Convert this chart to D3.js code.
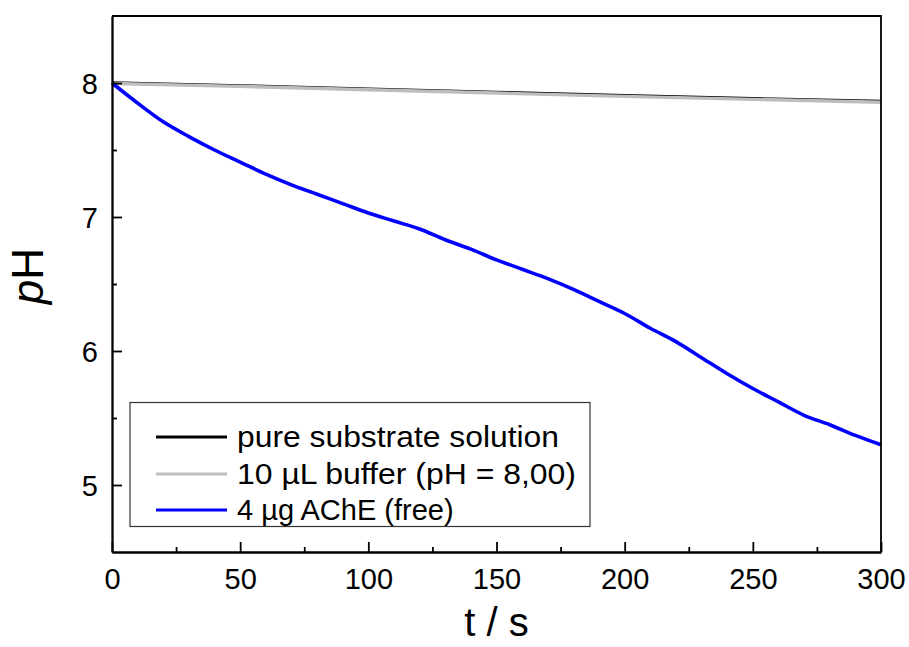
<!DOCTYPE html>
<html>
<head>
<meta charset="utf-8">
<script src="https://cdn.jsdelivr.net/npm/d3@7"></script>
<style>
  html, body { margin: 0; padding: 0; background: #fff; }
  svg { display: block; font-family: "Liberation Sans", Arial, sans-serif; }
</style>
</head>
<body>
<svg id="chart" width="909" height="647"></svg>
<script>
// ---- data ----
const timeS = [0,10,20,30,40,50,60,70,80,90,100,110,120,130,140,150,160,170,180,190,200,210,220,230,240,250,260,270,280,290,300];
const acheFree = [8.00,7.85,7.71,7.60,7.50,7.41,7.32,7.24,7.17,7.10,7.03,6.97,6.91,6.83,6.76,6.68,6.61,6.54,6.46,6.37,6.28,6.17,6.07,5.95,5.83,5.72,5.62,5.52,5.45,5.37,5.30];
const flatTime = [0, 50, 100, 150, 200, 250, 300];
const pureSubstrate = [8.004, 7.983, 7.959, 7.934, 7.909, 7.887, 7.866];
const buffer10uL = [7.996, 7.975, 7.950, 7.925, 7.900, 7.878, 7.856];
const seriesNames = ["pure substrate solution", "10 µL buffer (pH = 8,00)", "4 µg AChE (free)"];
const seriesColors = ["#000000", "#bdbdbd", "#0000ff"];
const xTicks = [0, 50, 100, 150, 200, 250, 300];
const xMinor = [25, 75, 125, 175, 225, 275];
const yTicks = [5, 6, 7, 8];
const yMinor = [5.5, 6.5, 7.5];

const svg = d3.select("#chart");
const L = 112, R = 881, T = 16, B = 552;
const x = d3.scaleLinear().domain([0, 300]).range([L, R]);
const y = d3.scaleLinear().domain([4.5, 8.5]).range([B, T]);

// curves
const line = d3.line().x(d => x(d[0])).y(d => y(d[1]));
const g = svg.append("g");
g.append("path").datum(flatTime.map((t, i) => [t, pureSubstrate[i]]))
  .attr("d", line).attr("fill", "none").attr("stroke", seriesColors[0]).attr("stroke-width", 2.2);
g.append("path").datum(flatTime.map((t, i) => [t, buffer10uL[i]]))
  .attr("d", line).attr("fill", "none").attr("stroke", seriesColors[1]).attr("stroke-width", 3.4);
g.append("path").datum(timeS.map((t, i) => [t, acheFree[i]]))
  .attr("d", line.curve(d3.curveMonotoneX)).attr("fill", "none").attr("stroke", seriesColors[2]).attr("stroke-width", 3.6);

// axes (ticks inward)
const xAxis = svg.append("g").attr("transform", `translate(0,${B})`)
  .call(d3.axisBottom(x).tickValues(xTicks).tickSizeInner(-10).tickSizeOuter(0).tickPadding(16).tickFormat(d3.format("d")));
const xAxisMinor = svg.append("g").attr("transform", `translate(0,${B})`)
  .call(d3.axisBottom(x).tickValues(xMinor).tickSizeInner(-5).tickSizeOuter(0).tickFormat(""));
const yAxis = svg.append("g").attr("transform", `translate(${L},0)`)
  .call(d3.axisLeft(y).tickValues(yTicks).tickSizeInner(-10).tickSizeOuter(0).tickPadding(14).tickFormat(d3.format("d")));
const yAxisMinor = svg.append("g").attr("transform", `translate(${L},0)`)
  .call(d3.axisLeft(y).tickValues(yMinor).tickSizeInner(-5).tickSizeOuter(0).tickFormat(""));
[xAxis, xAxisMinor, yAxis, yAxisMinor].forEach(a => {
  a.selectAll(".domain").attr("stroke", "#000").attr("stroke-width", 1.8);
  a.selectAll(".tick line").attr("stroke", "#000").attr("stroke-width", 1.8);
  a.selectAll("text").attr("font-size", 29).attr("fill", "#000")
    .attr("font-family", "Liberation Sans, Arial, sans-serif");
});
xAxis.selectAll("text").attr("dy", "0.71em");
yAxis.selectAll("text").attr("dy", "0.36em");

// frame top / right
svg.append("path").attr("d", `M${L},${T}H${R}V${B}`).attr("fill", "none")
  .attr("stroke", "#000").attr("stroke-width", 1.8);

// axis titles
svg.append("text").attr("x", (L + R) / 2).attr("y", 636).attr("text-anchor", "middle")
  .attr("font-size", 40).text("t / s");
const yt = svg.append("text").attr("transform", "translate(43,276) rotate(-90)")
  .attr("text-anchor", "middle").attr("font-size", 44);
yt.append("tspan").attr("font-style", "italic").text("p");
yt.append("tspan").text("H");

// legend
const lg = svg.append("g");
lg.append("rect").attr("x", 130).attr("y", 402.5).attr("width", 460).attr("height", 124)
  .attr("fill", "#fff").attr("stroke", "#333").attr("stroke-width", 1.2);
const rowsY = [437, 474, 510];
seriesNames.forEach((name, i) => {
  lg.append("line").attr("x1", 156).attr("x2", 227).attr("y1", rowsY[i]).attr("y2", rowsY[i])
    .attr("stroke", seriesColors[i]).attr("stroke-width", 3.2);
  lg.append("text").attr("x", 237).attr("y", rowsY[i]).attr("dy", "0.36em")
    .attr("font-size", 29).attr("textLength", i === 0 ? 322 : (i === 1 ? 339 : null))
    .attr("lengthAdjust", "spacingAndGlyphs").text(name);
});
</script>
</body>
</html>
